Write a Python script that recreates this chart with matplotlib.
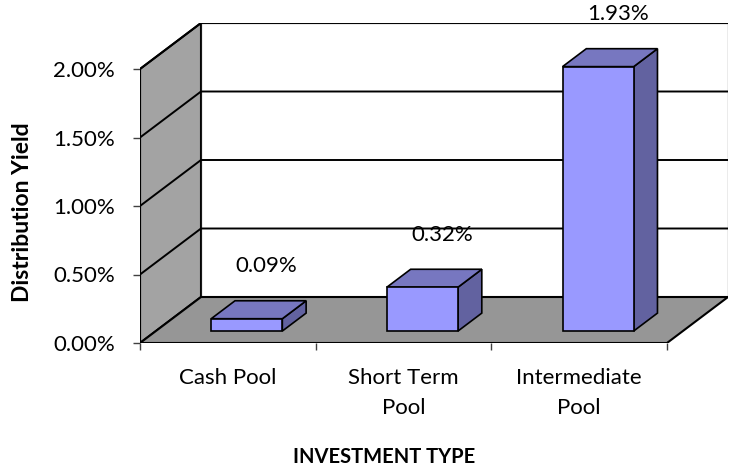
import matplotlib
matplotlib.use("Agg")
import matplotlib.pyplot as plt
from matplotlib.patches import Polygon
from matplotlib.ticker import FixedLocator, FixedFormatter

plt.rcParams['font.family'] = ['Lato', 'DejaVu Sans']

# data
categories = ['Cash Pool', 'Short Term\nPool', 'Intermediate\nPool']
yields = [0.09, 0.32, 1.93]  # percent
yticks = [0.0, 0.5, 1.0, 1.5, 2.0]
ytick_labels = ['0.00%', '0.50%', '1.00%', '1.50%', '2.00%']
ymax = 2.0

# fake 3d depth offset (x in category units, y in percent units)
dx = 61 / 175.67
dy = 46 / 137.0

W, H = 734, 467
fig = plt.figure(figsize=(W / 100, H / 100), dpi=100)
left_px, bottom_px = 140, 343
ax_w = (len(categories) + dx) * 175.67
ax_h = (ymax + dy) * 137.0
ax = fig.add_axes([left_px / W, 1 - bottom_px / H, ax_w / W, ax_h / H])
ax.set_xlim(0, len(categories) + dx)
ax.set_ylim(0, ymax + dy)
for s in ax.spines.values():
    s.set_visible(False)

n = len(categories)
edge = 'black'

# side wall
ax.add_patch(Polygon([(0, 0), (dx, dy), (dx, ymax + dy), (0, ymax)],
                     closed=True, facecolor='#a3a3a3', edgecolor=edge, lw=1.5, zorder=1))
# back wall
ax.add_patch(Polygon([(dx, dy), (n + dx, dy), (n + dx, ymax + dy), (dx, ymax + dy)],
                     closed=True, facecolor='white', edgecolor='#9a9a9a', lw=1.0, zorder=1))
# floor
ax.add_patch(Polygon([(0, 0), (n, 0), (n + dx, dy), (dx, dy)],
                     closed=True, facecolor='#969696', edgecolor=edge, lw=1.5, zorder=2))

# gridlines
for v in yticks[1:]:
    ax.plot([0, dx, n + dx], [v, v + dy, v + dy], color=edge, lw=1.4, zorder=2)
ax.plot([0, 0], [0, ymax], color=edge, lw=1.5, zorder=3)
ax.plot([dx, dx], [dy, ymax + dy], color=edge, lw=1.2, zorder=2)

# bars
bw = 0.405
z0, z1 = 0.26, 0.65
for i, v in enumerate(yields):
    x0 = i + 0.315
    x1 = x0 + bw
    ax0, ay0 = z0 * dx, z0 * dy
    ax1, ay1 = z1 * dx, z1 * dy
    side = [(x1 + ax0, ay0), (x1 + ax1, ay1), (x1 + ax1, v + ay1), (x1 + ax0, v + ay0)]
    top = [(x0 + ax0, v + ay0), (x1 + ax0, v + ay0), (x1 + ax1, v + ay1), (x0 + ax1, v + ay1)]
    front = [(x0 + ax0, ay0), (x1 + ax0, ay0), (x1 + ax0, v + ay0), (x0 + ax0, v + ay0)]
    ax.add_patch(Polygon(side, closed=True, facecolor='#6262a0', edgecolor=edge, lw=1.2, zorder=4))
    ax.add_patch(Polygon(top, closed=True, facecolor='#7777c0', edgecolor=edge, lw=1.2, zorder=4))
    ax.add_patch(Polygon(front, closed=True, facecolor='#9999ff', edgecolor=edge, lw=1.2, zorder=5))
    ax.text(x0 + bw / 2 + 0.58 * dx, v + 0.47, f'{v:.2f}%', ha='center', va='center',
            fontsize=16, color='black', zorder=6, clip_on=False)

# axes ticks
ax.yaxis.set_major_locator(FixedLocator(yticks))
ax.yaxis.set_major_formatter(FixedFormatter(ytick_labels))
ax.tick_params(axis='y', direction='out', length=5, width=1, color='#404040',
               pad=13, labelsize=16)
ax.xaxis.set_major_locator(FixedLocator(list(range(n + 1))))
ax.xaxis.set_major_formatter(FixedFormatter([''] * (n + 1)))
ax.xaxis.set_minor_locator(FixedLocator([i + 0.5 for i in range(n)]))
ax.xaxis.set_minor_formatter(FixedFormatter(categories))
ax.tick_params(axis='x', which='major', direction='out', length=5, width=1, color='#404040')
ax.tick_params(axis='x', which='minor', length=0, pad=18, labelsize=16)
for lbl in ax.xaxis.get_minorticklabels():
    lbl.set_linespacing(1.65)

fig.text(384 / W, 1 - 463 / H, 'INVESTMENT TYPE', ha='center', va='baseline',
         fontsize=14.5, fontweight='bold')
fig.text(23 / W, 1 - 212 / H, 'Distribution Yield', ha='center', va='center',
         rotation=90, fontsize=16.5, fontweight='bold')

fig.savefig('out.png', dpi=100)
